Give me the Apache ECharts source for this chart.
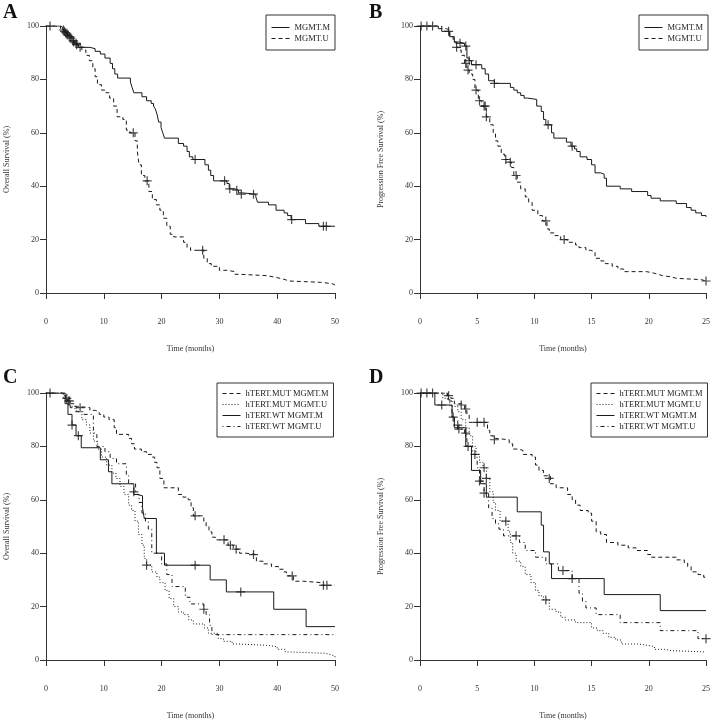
<!DOCTYPE html>
<html><head><meta charset="utf-8">
<script src="https://cdn.jsdelivr.net/npm/echarts@6/dist/echarts.min.js"></script>
<style>html,body{margin:0;padding:0;background:#fff}#c{width:713px;height:721px}</style>
</head><body><div id="c"></div><script>
// ---------- Panel A: Overall survival by MGMT ----------
const A_M = [[0,100],[2.5,99.5],[2.9,98.5],[3.3,97.5],[3.7,96.5],[4.1,95.5],[4.5,94],[5,93],[5.6,92],[7.6,91.5],[8.5,90.5],[9.4,89.5],[10.2,88],[11.1,86],[11.5,84],[11.9,82],[12.4,80.5],[14.6,79],[14.9,77],[15.2,75],[16.6,73.5],[17.4,72],[18.2,71],[18.6,70],[18.9,69],[19.2,67],[19.5,64],[19.9,62],[20.2,60],[20.5,58],[22.9,56],[23.8,55],[24.4,53],[24.8,51],[25.4,50],[27.5,48],[28.1,46],[28.5,44],[29,42],[31.3,41],[31.7,39],[32.7,38.5],[33.3,37.5],[34,37],[36.3,36],[36.6,34],[38.5,33],[39.8,31],[41.2,30],[41.8,29],[42.4,27.5],[44.9,26],[47.2,25],[50,25]];
const A_M_cens = [[0.7,100],[3.0,98.5],[3.4,97.5],[3.8,96.5],[4.3,95.5],[4.8,94],[5.3,93],[5.9,92],[25.8,50],[30.9,42],[31.8,39],[33.0,38.5],[33.8,37],[35.9,37],[42.5,27.5],[48,25],[48.5,25]];
const A_U = [[0,100],[2.5,99],[3,98],[3.5,97],[4,96],[4.5,94.5],[5,93.5],[5.5,92.5],[6.2,91],[6.9,89],[7.5,87],[8.1,84],[8.5,81],[8.9,78],[9.6,76],[10.4,75],[11,73],[11.7,70],[12.3,66],[13.3,65],[13.9,61],[14.5,60],[15.4,57],[15.8,53],[16.1,48],[16.5,44],[17.1,42],[17.8,38],[18.4,35],[19.1,33],[19.7,31],[20.3,28],[20.9,25],[21.5,22],[22.1,21],[23.8,19],[24.4,17],[25,16],[27.3,13],[27.9,11],[28.6,10],[30,8.5],[31.3,8],[32.7,7],[33.5,6.5],[38.2,6],[39.4,5.5],[40.5,5],[41.4,4.5],[42,4],[47.5,3.5],[49.5,3],[50,3]];
const A_U_cens = [[3.2,98],[3.6,97],[4.1,96],[4.7,94.5],[5.2,93.5],[15.1,60],[17.5,42],[27.1,16]];

// ---------- Panel B: Progression free survival by MGMT ----------
const B_M = [[0,100],[1.6,99],[1.9,98],[2.6,96],[3.0,94],[3.4,93.5],[3.9,92.5],[4.1,88],[4.3,87],[4.5,85.5],[5.4,84],[5.7,82],[6,79.5],[6.5,78.5],[7.9,77],[8.2,76],[8.5,75],[8.8,74],[9.1,73],[9.4,72.5],[10.2,70],[10.6,68],[10.8,65],[11,63],[11.5,60],[11.7,58],[12.8,56.5],[13.2,55],[13.5,54],[13.7,53],[14,51],[14.6,50],[15.0,48],[15.3,45],[15.8,44.5],[16.1,43],[16.3,40],[17.5,39],[18.5,38],[19.9,36.5],[20.2,35.5],[21,34.5],[22.4,33.5],[23.3,32],[23.7,31],[24.1,30],[24.6,29],[25,28.5]];
const B_M_cens = [[0.1,100],[0.6,100],[1.1,100],[2.5,98],[3.5,93.5],[4.0,92.5],[4.3,87],[4.9,85.5],[6.5,78.5],[11.2,63],[13.3,55]];
const B_U = [[0,100],[1.9,99],[2.3,98.5],[2.6,96],[2.9,94],[3.2,92],[3.4,91],[3.6,89],[3.9,86],[4.1,83.5],[4.3,82],[4.6,80],[4.8,76],[5.1,72],[5.4,70],[5.8,66],[6.1,63],[6.4,60],[6.6,57],[6.8,55],[7.1,52],[7.4,50],[7.7,49],[8.0,47],[8.2,44],[8.5,41.5],[8.8,39],[9.2,36],[9.5,34],[9.8,31],[10.3,29],[10.7,27],[11.1,24],[11.3,22.5],[11.8,21.5],[12.3,20],[12.9,19],[13.6,18],[13.9,17],[14.5,16],[14.9,15.5],[15.3,13],[15.8,12],[16.2,11],[16.8,10],[17.3,9],[17.8,8],[19.8,7.5],[20.4,7],[20.8,6.5],[21.2,6],[22,5.5],[22.4,5],[24.6,4.5],[25,4.5]];
const B_U_cens = [[3.2,92],[4.0,86],[4.2,83.5],[4.9,76],[5.2,72],[5.6,70],[5.7,70],[5.8,66],[7.5,50],[7.9,49],[8.4,44],[11,27],[12.6,20],[25,4.5]];

// ---------- Panel C: Overall survival by hTERT x MGMT ----------
const C_MUT_M = [[0,100],[3.0,99],[3.4,98],[3.8,97],[4.3,96],[4.8,95],[5.5,94.5],[7.6,93.5],[8.5,93],[9.2,92],[10,91],[10.9,90],[11.8,87],[12.2,84.5],[14.3,83],[14.8,81],[15.3,79],[16.5,78],[17.4,77],[18.3,76],[18.8,74],[19.2,72],[19.7,68],[20.4,64.5],[22.9,62],[23.7,61],[24.6,60],[25.1,57],[25.5,54],[27.3,52],[27.7,50],[28.2,48],[28.7,46],[29.3,45],[31.5,43],[32.4,41.5],[33.5,40],[34.6,39.5],[36.4,37],[37.6,36],[39,35],[40.2,34],[41.1,33],[41.6,31.5],[42.8,29.5],[44.5,29],[47.5,28],[50,28]];
const C_MUT_M_cens = [[3.6,98],[4.1,97],[5.9,94.5],[25.8,54],[30.8,45],[31.9,43],[32.9,41.5],[35.9,39.5],[42.6,31.5],[48,28],[48.6,28]];
const C_MUT_U = [[0,100],[3.0,98],[3.6,96],[4.2,95],[5.3,93],[6.2,90],[7,88],[7.6,85],[8.2,82],[8.9,79],[9.6,76],[10.5,73],[11.4,70],[12.1,68],[12.8,65],[13.5,62],[14.3,58],[14.8,56],[15.4,52],[16,47],[16.6,43],[17,38],[17.4,35.5],[18.3,33],[19.2,31],[19.7,29],[20.6,26],[21.3,23],[22.1,20],[22.9,18],[23.8,17],[24.7,15],[25.5,13.5],[27.4,12],[28.1,10],[29.8,8],[30.7,7],[32.2,6],[33.3,5.5],[38.2,5],[40,4],[41.4,3],[42.3,2.5],[48.3,2],[49.2,1.5],[50,1]];
const C_MUT_U_cens = [[17.4,35.5]];
const C_WT_M = [[0,100],[3.3,96],[3.8,92],[4.5,88],[5.2,84],[6.1,79.5],[9.4,75],[10.8,70.5],[11.4,66],[15.2,62],[15.7,61.5],[16.7,57],[17,53],[19.1,40],[20.5,35.5],[28.4,30],[31.2,25.5],[39.4,19],[45,12.5],[50,12.5]];
const C_WT_M_cens = [[0.7,100],[4.5,88],[5.6,84],[25.8,35.5],[33.7,25.5]];
const C_WT_U = [[0,100],[3.5,97],[4.2,94.5],[5.0,93],[6.5,92],[8.2,85],[8.8,80],[10.2,78],[11.1,75.5],[12.2,73.5],[13.9,69],[14.3,66],[15.5,62],[16.1,59],[16.6,55],[17.2,52],[17.7,49],[18.3,40],[20,36],[20.9,32],[21.8,27.5],[24.1,23.5],[24.9,21],[27.3,19],[27.7,17],[28.3,13],[28.7,9.5],[50,9.5]];
const C_WT_U_cens = [[3.9,97],[15.2,63],[27.3,19]];

// ---------- Panel D: Progression free survival by hTERT x MGMT ----------
const D_MUT_M = [[0,100],[2.3,99],[2.7,98],[3.0,96],[3.6,95.5],[3.9,94],[4.1,92],[4.3,89],[5.9,86],[6.1,84],[6.4,83],[6.6,82.5],[7.8,81],[8.1,79],[8.6,78.5],[9,77],[9.8,76],[10.1,73],[10.4,71],[10.8,69],[11.4,66],[11.9,64.5],[12.9,62],[13.3,60],[13.6,58],[14,56],[14.7,55],[15,52],[15.4,48],[15.8,47],[16.3,44],[17.3,43],[18.2,42],[18.9,41],[19.9,39.5],[20.2,38.5],[22.4,37.5],[23.1,36.5],[23.4,35],[23.7,33],[24.3,32],[24.8,31],[25,31]];
const D_MUT_M_cens = [[0.1,100],[0.6,100],[1.1,100],[2.5,99],[3.6,95.5],[4.0,94],[5.0,89],[5.6,89],[6.5,82.5],[11.3,68]];
const D_MUT_U = [[0,100],[2.0,98],[2.6,95],[3.3,93],[3.6,90],[4,87],[4.3,84],[4.6,80],[4.9,77],[5.2,74],[5.5,72],[5.8,68],[6.1,63],[6.4,59],[6.6,56],[7.0,52],[7.7,48],[7.9,44],[8.1,40],[8.4,37],[8.8,35],[9.2,32],[9.7,29],[10.1,26],[10.4,24],[10.8,22.5],[11.3,19],[11.9,18],[12.3,16],[12.7,15],[13.6,14],[15,12],[15.5,11],[16,10],[16.5,8.5],[17.1,7.5],[17.6,6],[19.1,5.5],[19.9,5],[20.5,4],[21.4,3.5],[22,3],[25,3]];
const D_MUT_U_cens = [[5.6,72],[5.8,68],[7.5,52],[11,22.5]];
const D_WT_M = [[0,100],[1.3,95.5],[2.8,91],[3.0,87],[4.0,80],[4.5,71],[5.3,66],[5.8,61],[8.5,55.5],[10.6,50.5],[10.8,40.5],[11.3,36],[11.5,30.5],[16.1,24.5],[21,18.5],[25,18.5]];
const D_WT_M_cens = [[1.9,95.5]];
const D_WT_U = [[0,100],[2.4,97],[2.8,91],[3.0,88],[3.3,86.5],[3.9,85],[4.1,80],[4.6,77],[5.0,72],[5.2,67],[5.6,62.5],[6.0,57],[6.3,53],[6.6,51],[6.9,49],[7.3,46.5],[8.7,44],[9.2,41],[10.1,38.5],[11,36],[12.1,33.5],[13.3,30.5],[13.9,25],[14.2,22],[14.5,19.5],[15.4,17],[17.5,14],[21,11],[24.3,8],[25,8]];
const D_WT_U_cens = [[2.9,91],[3.3,88],[3.4,86.5],[4.0,85],[4.2,80],[4.8,77],[5.2,67],[5.6,62.5],[8.4,46.5],[12.5,33.5],[13.3,30.5],[25,8]];

// ---------- Labels ----------
const panelLetters = ['A','B','C','D'];
const yTitles = ['Overall Survival (%)','Progression Free Survival (%)','Overall Survival (%)','Progression Free Survival (%)'];
const xTitle = 'Time (months)';
const xMax = [50,25,50,25];
const xStep = [10,5,10,5];
const legend2 = ['MGMT.M','MGMT.U'];
const legend4 = ['hTERT.MUT MGMT.M','hTERT.MUT MGMT.U','hTERT.WT MGMT.M','hTERT.WT MGMT.U'];

// ---------- Build ----------
const INK = '#1a1a1a';
const AX = '#333';
const FONT = '"Liberation Serif", "Times New Roman", serif';
const DASH = {solid:'solid', dashed:[4,3], dotted:[1,2], dotdash:[1,3,4,3]};
const PLUS = 'path://M3.9,0H5.1V9H3.9ZM0,3.9H9V5.1H0Z';

const grids = [
  {left:46, top:26, width:289, height:267},
  {left:420, top:26, width:288, height:267},
  {left:46, top:393, width:289, height:268},
  {left:420, top:393, width:288, height:268}
];

const curves = [
  [[legend2[0], A_M, A_M_cens, 'solid'], [legend2[1], A_U, A_U_cens, 'dashed']],
  [[legend2[0], B_M, B_M_cens, 'solid'], [legend2[1], B_U, B_U_cens, 'dashed']],
  [[legend4[0], C_MUT_M, C_MUT_M_cens, 'dashed'], [legend4[1], C_MUT_U, C_MUT_U_cens, 'dotted'],
   [legend4[2], C_WT_M, C_WT_M_cens, 'solid'], [legend4[3], C_WT_U, C_WT_U_cens, 'dotdash']],
  [[legend4[0], D_MUT_M, D_MUT_M_cens, 'dashed'], [legend4[1], D_MUT_U, D_MUT_U_cens, 'dotted'],
   [legend4[2], D_WT_M, D_WT_M_cens, 'solid'], [legend4[3], D_WT_U, D_WT_U_cens, 'dotdash']]
];

const xAxis = [], yAxis = [], series = [];
grids.forEach((g, i) => {
  xAxis.push({
    gridIndex:i, type:'value', min:0, max:xMax[i], interval:xStep[i], offset:11,
    name:xTitle, nameLocation:'middle', nameGap:41,
    nameTextStyle:{fontFamily:FONT, fontSize:8, color:'#333'},
    axisLine:{show:true, lineStyle:{color:AX, width:1}},
    axisTick:{show:true, length:6, lineStyle:{color:AX}},
    axisLabel:{fontFamily:FONT, fontSize:8, color:'#333', margin:14},
    splitLine:{show:false}
  });
  yAxis.push({
    gridIndex:i, type:'value', min:0, max:100, interval:20,
    name:yTitles[i], nameLocation:'middle', nameGap:35, nameRotate:90,
    nameTextStyle:{fontFamily:FONT, fontSize:8, color:'#333'},
    axisLine:{show:true, lineStyle:{color:AX, width:1}},
    axisTick:{show:true, length:6, lineStyle:{color:AX}},
    axisLabel:{fontFamily:FONT, fontSize:8, color:'#333', margin:7},
    splitLine:{show:false}
  });
  curves[i].forEach((c, j) => {
    series.push({
      type:'line', name:c[0], data:c[1], step:'end', xAxisIndex:i, yAxisIndex:i,
      symbol:'none', showSymbol:false, silent:true, animation:false,
      lineStyle:{color:INK, width:1, type:DASH[c[3]]}, itemStyle:{color:INK},
      emphasis:{disabled:true}
    });
    series.push({
      type:'scatter', name:'cens'+i+'_'+j, data:c[2], xAxisIndex:i, yAxisIndex:i,
      symbol:PLUS, symbolSize:9, silent:true, animation:false, z:3,
      itemStyle:{color:INK}, emphasis:{disabled:true}
    });
  });
});

const legCommon = {
  orient:'vertical', itemWidth:18, itemHeight:8, itemGap:2,
  borderColor:'#333', borderWidth:1, backgroundColor:'#fff',
  selectedMode:false, align:'left',
  itemStyle:{opacity:0, color:'rgba(0,0,0,0)', borderWidth:0},
  lineStyle:{width:1, color:INK},
  textStyle:{fontFamily:FONT, fontSize:8.5, color:'#222'}
};
const legend = [
  Object.assign({}, legCommon, {left:266, top:15, padding:[8,5,7,5], data:legend2}),
  Object.assign({}, legCommon, {left:639, top:15, padding:[8,5,7,5], data:legend2}),
  Object.assign({}, legCommon, {left:217, top:383, padding:[6,5,6,5], data:legend4}),
  Object.assign({}, legCommon, {left:591, top:383, padding:[6,5,6,5], data:legend4})
];

const letterPos = [[3,3],[369,3],[3,368],[369,368]];
const graphic = panelLetters.map((L, i) => ({
  type:'text', left:letterPos[i][0], top:letterPos[i][1],
  style:{text:L, fontFamily:FONT, fontSize:20, fontWeight:'bold', fill:'#111'}
}));

const chart = echarts.init(document.getElementById('c'), null, {renderer:'canvas'});
chart.setOption({
  animation:false, backgroundColor:'#fff',
  grid:grids, xAxis, yAxis, series, legend, graphic
});
</script></body></html>
